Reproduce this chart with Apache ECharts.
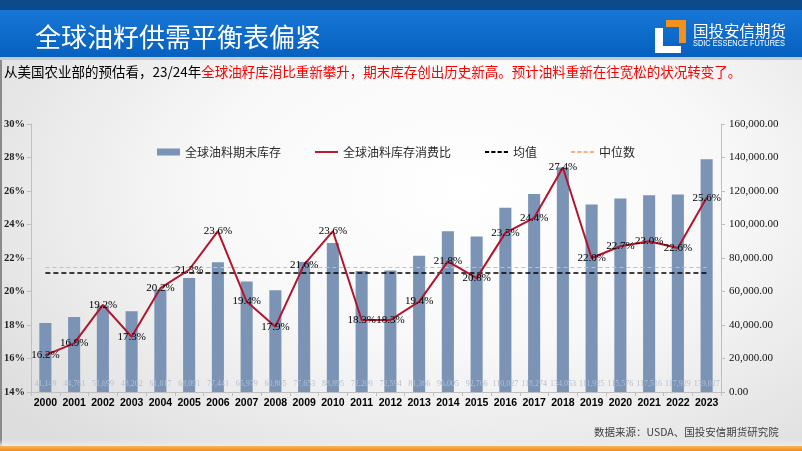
<!DOCTYPE html>
<html><head><meta charset="utf-8">
<script src="https://cdn.jsdelivr.net/npm/echarts@6/dist/echarts.min.js"></script>
<style>
html,body{margin:0;padding:0;width:802px;height:451px;overflow:hidden;}
body{background: radial-gradient(ellipse 72% 78% at 58% 42%, #ffffff 0%, #f8f8f8 45%, #dddddd 100%);}
#c{width:802px;height:451px;}
</style></head><body><div id="c"></div>
<script>
// ---- data ----
const years = ['2000','2001','2002','2003','2004','2005','2006','2007','2008','2009','2010','2011','2012','2013','2014','2015','2016','2017','2018','2019','2020','2021','2022','2023'];
const endingStocks = [41149,44761,51699,48202,61017,68091,77441,65979,60805,77653,88895,72209,72594,81366,96005,92766,110027,118274,134053,111925,115576,117516,117929,139027];
const stockUseRatio = [16.2,16.9,19.2,17.3,20.2,21.3,23.6,19.4,17.9,21.6,23.6,18.3,18.3,19.4,21.8,20.8,23.5,24.4,27.4,22.0,22.7,23.0,22.6,25.6];
const meanRatio = 21.1;
const medianRatio = 21.45;
const leftAxis = {min:14, max:30, interval:2};
const rightAxis = {min:0, max:160000, interval:20000};

const chart = echarts.init(document.getElementById('c'));
const fmtInt = v => Math.round(v).toLocaleString('en-US');
const fmtRight = v => v.toLocaleString('en-US',{minimumFractionDigits:2, maximumFractionDigits:2});

const solidIcon = 'path://M0,0h24v2h-24z';
const dashIcon = 'path://M0,0h4v2h-4zM6,0h4v2h-4zM12,0h4v2h-4zM18,0h4v2h-4z';

const option = {
  backgroundColor: 'transparent',
  animation: false,
  grid: {left:31, right:81, top:124, bottom:59},
  legend: {
    top: 141, left: 152, itemWidth: 23, itemHeight: 7, itemGap: 34,
    textStyle: {fontSize: 12, color: '#2a2a2a', fontFamily: 'Noto Sans CJK SC'},
    data: [
      {name:'全球油料期末库存', icon:'rect'},
      {name:'全球油料库存消费比', icon:solidIcon},
      {name:'均值', icon:dashIcon},
      {name:'中位数', icon:dashIcon}
    ]
  },
  xAxis: {
    type: 'category', data: years,
    axisLine: {lineStyle: {color: '#bfbfbf'}},
    axisTick: {show: true, length: 4, lineStyle: {color: '#bfbfbf'}},
    axisLabel: {interval: 0, color: '#000', fontSize: 10.5, fontWeight: 'bold', fontFamily: 'Liberation Sans', margin: 6}
  },
  yAxis: [
    {type:'value', position:'left', min:leftAxis.min, max:leftAxis.max, interval:leftAxis.interval,
     axisLine:{show:true, lineStyle:{color:'#bfbfbf'}},
     axisTick:{show:true, length:4, lineStyle:{color:'#bfbfbf'}},
     splitLine:{show:false},
     axisLabel:{formatter:'{value}%', fontFamily:'Liberation Serif', fontSize:10.5, fontWeight:'bold', color:'#222', margin:6}},
    {type:'value', position:'right', min:rightAxis.min, max:rightAxis.max, interval:rightAxis.interval,
     axisLine:{show:true, lineStyle:{color:'#bfbfbf'}},
     axisTick:{show:true, length:4, lineStyle:{color:'#bfbfbf'}},
     splitLine:{show:false},
     axisLabel:{formatter: fmtRight, fontFamily:'Liberation Serif', fontSize:11, color:'#111', margin:8}}
  ],
  series: [
    {name:'全球油料期末库存', type:'bar', yAxisIndex:1, data:endingStocks, barWidth:'42%',
     itemStyle:{color:'#7b93b4'},
     label:{show:true, position:'insideBottom', distance:4, formatter:p=>fmtInt(p.value),
            fontSize:8, color:'#b3c0d4', fontFamily:'Liberation Serif'}},
    {name:'全球油料库存消费比', type:'line', yAxisIndex:0, data:stockUseRatio, z:5,
     symbol:'circle', symbolSize:1, lineStyle:{color:'#b2152b', width:2}, itemStyle:{color:'#b2152b'},
     label:{show:true, position:'inside', formatter:p=>p.value.toFixed(1)+'%',
            fontSize:11, color:'#000', fontFamily:'Liberation Serif'}},
    {name:'均值', type:'line', yAxisIndex:0, data:[], symbol:'none', z:4,
     itemStyle:{color:'#000'}, lineStyle:{color:'#000', type:'dashed', width:1.5},
     markLine:{silent:true, symbol:'none', label:{show:false},
       lineStyle:{color:'#000', type:[5,3], width:1.5},
       data:[[{coord:[years[0], meanRatio]},{coord:[years[years.length-1], meanRatio]}]]}},
    {name:'中位数', type:'line', yAxisIndex:0, data:[], symbol:'none', z:3,
     itemStyle:{color:'#f4b183'}, lineStyle:{color:'#f4b183', type:'dashed', width:1},
     markLine:{silent:true, symbol:'none', label:{show:false},
       lineStyle:{color:'#f4b183', type:[4,3], width:1},
       data:[[{coord:[years[0], medianRatio]},{coord:[years[years.length-1], medianRatio]}]]}}
  ],
  graphic: [
    {type:'rect', shape:{x:0,y:0,width:802,height:10}, style:{fill:'#0c4a8c'}, z:-5},
    {type:'rect', shape:{x:0,y:10,width:802,height:47}, z:-5,
     style:{fill:new echarts.graphic.LinearGradient(0,0,0,1,[{offset:0,color:'#1877d6'},{offset:1,color:'#0660c0'}])}},
    {type:'rect', shape:{x:0,y:57,width:802,height:3}, style:{fill:'#c3ccd6'}, z:-5},
    {type:'rect', shape:{x:0,y:60,width:2,height:387}, style:{fill:'#8a8a8a'}, z:-5},
    {type:'rect', shape:{x:0,y:440,width:802,height:7}, z:-5,
     style:{fill:new echarts.graphic.LinearGradient(0,0,0,1,[{offset:0,color:'rgba(240,240,240,0)'},{offset:1,color:'#ececec'}])}},
    {type:'rect', shape:{x:0,y:446,width:802,height:5}, z:-5,
     style:{fill:new echarts.graphic.LinearGradient(0,0,0,1,[{offset:0,color:'#f7b55f'},{offset:1,color:'#ee8a14'}])}},
    {type:'text', x:35, y:37, style:{text:'全球油籽供需平衡表偏紧', fill:'#fff', font:'26px "Noto Sans CJK SC"', verticalAlign:'middle'}},
    {type:'polygon', shape:{points:[[666,20],[686,20],[686,43],[679,43],[679,27],[666,27]]}, style:{fill:'#f0921d'}},
    {type:'polygon', shape:{points:[[655,28],[663,28],[663,46],[681,46],[681,53],[655,53]]}, style:{fill:'#ffffff'}},
    {type:'text', x:693, y:31, style:{text:'国投安信期货', fill:'#fff', font:'15.5px "Noto Sans CJK SC"', verticalAlign:'middle'}},
    {type:'text', x:693, y:44, scaleX:0.82, style:{text:'SDIC ESSENCE FUTURES', fill:'#fff', font:'9px "Liberation Sans"', verticalAlign:'middle'}},
    {type:'text', x:4, y:72, style:{
      text:'{a|从美国农业部的预估看，23/24年}{b|全球油籽库消比重新攀升，期末库存创出历史新高。预计油料重新在往宽松的状况转变了。}',
      verticalAlign:'middle',
      rich:{a:{fill:'#000', font:'13.5px "Noto Sans CJK SC"'}, b:{fill:'#ff0000', font:'13.5px "Noto Sans CJK SC"'}}}},
    {type:'text', x:594, y:432, style:{text:'数据来源：USDA、国投安信期货研究院', fill:'#404040', font:'10.5px "Noto Sans CJK SC"', verticalAlign:'middle'}}
  ]
};
chart.setOption(option);
</script>
</body></html>
